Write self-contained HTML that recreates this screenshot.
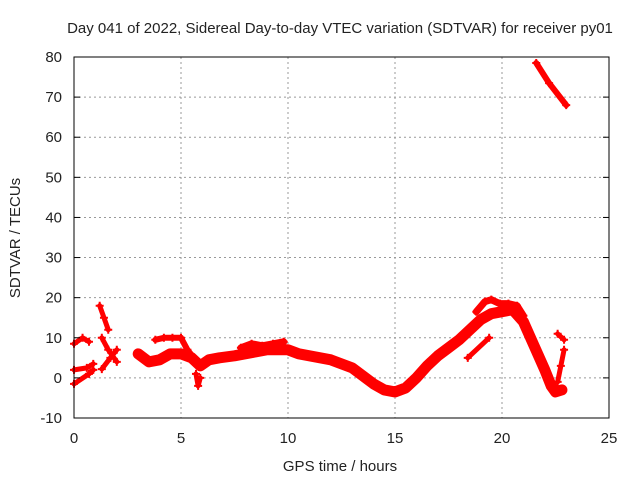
<!DOCTYPE html>
<html><head><meta charset="utf-8"><style>
body{margin:0;background:#fff;}
svg text{font-family:"Liberation Sans",sans-serif;font-size:15px;fill:#222;}
</style></head><body>
<svg id="chart" width="640" height="480" xmlns="http://www.w3.org/2000/svg">
<g id="grid"></g>
<g id="series"></g>
<g id="axes"></g>
<text x="340" y="33" text-anchor="middle">Day 041 of 2022, Sidereal Day-to-day VTEC variation (SDTVAR) for receiver py01</text>
<text x="340" y="471" text-anchor="middle">GPS time / hours</text>
<text x="20" y="238" text-anchor="middle" transform="rotate(-90 20 238)">SDTVAR / TECUs</text>
</svg>
<script>
const xTicks=[0,5,10,15,20,25];
const yTicks=[-10,0,10,20,30,40,50,60,70,80];
const mainBandT=[3.0,3.5,4.0,4.5,5.0,5.5,5.9,6.3,6.8,7.5,8.0,8.5,9.0,9.5,10.0,10.5,11.0,11.5,12.0,12.5,13.0,13.5,14.0,14.5,15.0,15.5,16.0,16.5,17.0,17.5,18.0,18.5,19.0,19.5,20.0,20.5,21.0,21.5,22.0,22.3,22.5,22.8];
const mainBandV=[6,4,4.5,6,6,5,3,4.5,5,5.5,6,6.5,7,7,7,6,5.5,5,4.5,3.5,2.5,0.5,-1.5,-3,-3.5,-2.5,0,3,5.5,7.5,9.5,12,14.5,16,16.5,17,14,8,2,-2,-3.5,-3];
const peakUpperT=[18.8,19.2,19.5,19.9,20.3,20.7,21.0];
const peakUpperV=[16.5,19,19.5,18.5,18.5,18,15.5];
const noisyBandT=[7.8,8.3,8.8,9.3,9.8];
const noisyBandV=[7.5,8.5,8,8.5,9];
const upperEarlyT=[3.8,4.2,4.6,5.0,5.3,5.6];
const upperEarlyV=[9.5,10,10,10,7,5];
const dipT=[5.7,5.8,5.9];
const dipV=[1,-2,0];
const trackAT=[0,0.4,0.7];
const trackAV=[8.5,10,9];
const trackBT=[0,0.6,0.9];
const trackBV=[2,2.5,3.5];
const trackCT=[0,0.7,0.9];
const trackCV=[-1.5,1,2];
const trackDT=[1.2,1.4,1.6];
const trackDV=[18,15,12];
const trackET=[1.3,1.7,2.0];
const trackEV=[2.2,5,7];
const trackFT=[1.3,1.6,2.0];
const trackFV=[10,7,4];
const topT=[21.6,22.2,23.0];
const topV=[78.5,73.5,68];
const pieceGT=[18.4,19.4];
const pieceGV=[5,10];
const pieceHT=[22.6,22.9];
const pieceHV=[11,9.5];
const pieceIT=[22.6,22.75,22.9];
const pieceIV=[-1,3,7];
const allT=[mainBandT,peakUpperT,noisyBandT,upperEarlyT,dipT,trackAT,trackBT,trackCT,trackDT,trackET,trackFT,topT,pieceGT,pieceHT,pieceIT];
const allV=[mainBandV,peakUpperV,noisyBandV,upperEarlyV,dipV,trackAV,trackBV,trackCV,trackDV,trackEV,trackFV,topV,pieceGV,pieceHV,pieceIV];
const widths=[11,7,7,6,5,5,5,5,5,5,5,6,5,5,5];
const L=74,R=609,T=57,B=418;
const sx=t=>L+(t-0)/25*(R-L);
const sy=v=>B-(v+10)/90*(B-T);
const NS="http://www.w3.org/2000/svg";
const grid=document.getElementById('grid'),axes=document.getElementById('axes'),ser=document.getElementById('series');
function mk(tag,attrs,parent){const e=document.createElementNS(NS,tag);for(const k in attrs)e.setAttribute(k,attrs[k]);parent.appendChild(e);return e;}
xTicks.forEach(t=>{
  if(t>0&&t<25){const g=mk('line',{x1:sx(t),x2:sx(t),y1:T,y2:B,stroke:'#999','stroke-dasharray':'2,3'},grid);
  
  }
  const tx=mk('text',{x:sx(t),y:B+25,'text-anchor':'middle'},axes);tx.textContent=t;
  
  
});
yTicks.forEach(v=>{
  if(v>-10&&v<80){const g=mk('line',{x1:L,x2:R,y1:sy(v),y2:sy(v),stroke:'#999','stroke-dasharray':'2,3'},grid);
  
  }
  mk('line',{x1:L,x2:L+6,y1:sy(v),y2:sy(v),stroke:'#000'},axes);
  mk('line',{x1:R-6,x2:R,y1:sy(v),y2:sy(v),stroke:'#000'},axes);
  const tx=mk('text',{x:L-12,y:sy(v)+5,'text-anchor':'end'},axes);tx.textContent=v;
  
  
});
const frame=mk('rect',{x:L,y:T,width:R-L,height:B-T,fill:'none',stroke:'#000'},axes);


allT.forEach((ts,i)=>{
  const vs=allV[i];
  const pts=ts.map((t,j)=>sx(t)+','+sy(vs[j])).join(' ');
  const p=mk('polyline',{points:pts,fill:'none',stroke:'#f00','stroke-width':widths[i],'stroke-linejoin':'round','stroke-linecap':'round'},ser);
  
  
  ts.forEach((t,j)=>{
    const x=sx(t),y=sy(vs[j]);
    const m=mk('path',{d:`M${x-4},${y}h8M${x},${y-4}v8`,stroke:'#f00','stroke-width':2},ser);
    
    
  });
});
</script>
</body></html>
